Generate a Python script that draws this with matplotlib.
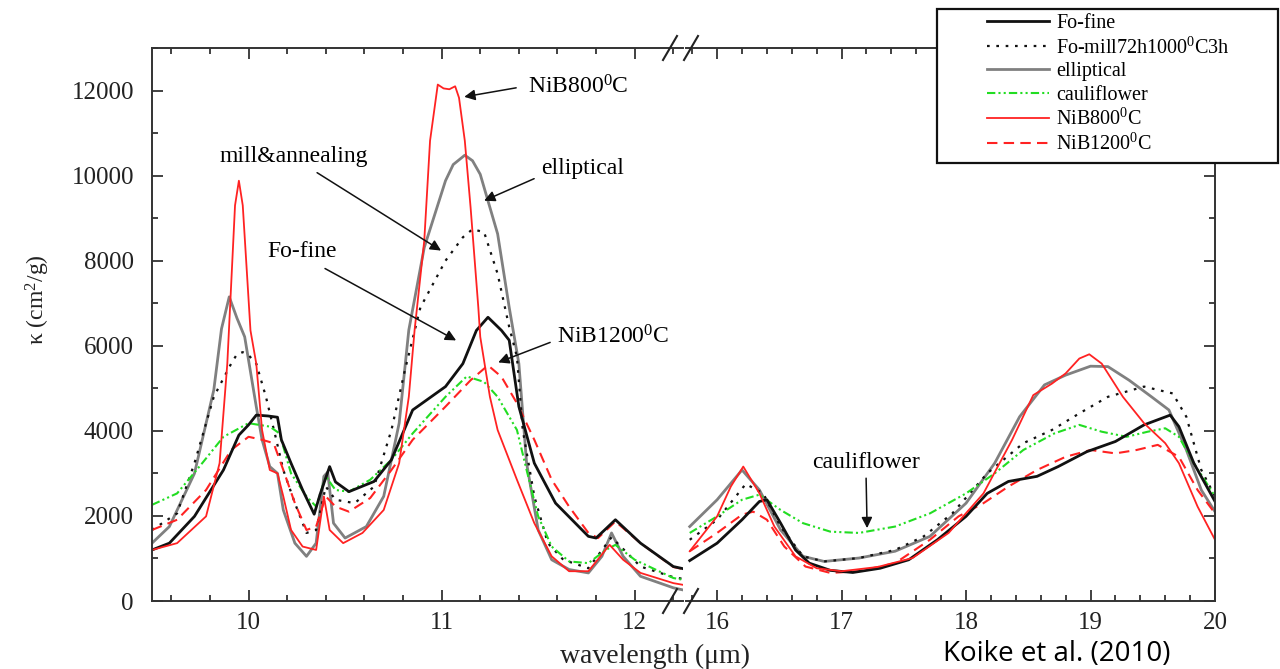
import matplotlib
matplotlib.use('Agg')
import matplotlib.pyplot as plt
from matplotlib.lines import Line2D
from matplotlib.patches import Rectangle
from matplotlib.ticker import MultipleLocator

plt.rcParams['font.family'] = ['Liberation Serif', 'DejaVu Serif']
plt.rcParams['mathtext.fontset'] = 'custom'
plt.rcParams['mathtext.rm'] = 'Liberation Serif'
plt.rcParams['mathtext.it'] = 'Liberation Serif:italic'

# ---- data (wavelength in um, kappa in cm^2/g) ----
# left panel (9.5 - 12.25 um)
fo_fine_lx = [9.50, 9.59, 9.72, 9.87, 9.95, 10.00, 10.04, 10.10, 10.15, 10.17, 10.22, 10.28, 10.34, 10.37,
              10.42, 10.45, 10.52, 10.65, 10.74, 10.85, 11.02, 11.11, 11.18, 11.24, 11.31, 11.35, 11.40,
              11.48, 11.59, 11.76, 11.80, 11.90, 12.03, 12.20, 12.25]
fo_fine_ly = [1200, 1360, 1990, 3080, 3900, 4140, 4370, 4350, 4320, 3790, 3240, 2610, 2040, 2500,
              3160, 2800, 2570, 2810, 3320, 4490, 5040, 5580, 6360, 6670, 6360, 6130, 4570,
              3240, 2300, 1520, 1480, 1910, 1360, 810, 760]

fo_mill_lx = [9.50, 9.63, 9.72, 9.82, 9.91, 9.94, 9.97, 10.00, 10.04, 10.09, 10.14, 10.18, 10.24, 10.30,
              10.35, 10.40, 10.45, 10.55, 10.65, 10.74, 10.81, 10.89, 11.02, 11.11, 11.16, 11.22, 11.29,
              11.35, 11.39, 11.42, 11.48, 11.55, 11.63, 11.76, 11.88, 12.03, 12.20, 12.25]
fo_mill_ly = [1670, 2060, 3240, 4800, 5580, 5800, 5850, 5780, 5580, 4800, 3860, 3080, 2300, 1600,
              1670, 2690, 2380, 2300, 2690, 4020, 5430, 6900, 8000, 8550, 8740, 8670, 7690,
              6440, 5740, 4020, 2460, 1360, 970, 770, 1500, 810, 560, 520]

ellip_lx = [9.50, 9.59, 9.72, 9.82, 9.86, 9.90, 9.94, 9.98, 10.04, 10.07, 10.11, 10.15, 10.18, 10.24,
            10.30, 10.35, 10.39, 10.41, 10.44, 10.50, 10.61, 10.70, 10.78, 10.83, 10.91, 11.02, 11.06,
            11.12, 11.16, 11.20, 11.29, 11.35, 11.40, 11.44, 11.50, 11.57, 11.66, 11.76, 11.83, 11.88,
            11.94, 12.03, 12.20, 12.25]
ellip_ly = [1360, 1750, 3000, 4960, 6400, 7150, 6650, 6210, 4570, 3790, 3160, 3000, 2140, 1360,
            1050, 1360, 2930, 3030, 1830, 1480, 1750, 2460, 4180, 6370, 8310, 9880, 10260,
            10480, 10350, 10030, 8630, 6900, 5580, 3240, 1670, 970, 740, 660, 1050, 1600,
            1050, 580, 310, 260]

cauli_lx = [9.50, 9.63, 9.76, 9.87, 10.00, 10.11, 10.16, 10.22, 10.30, 10.35, 10.40, 10.45, 10.52, 10.63,
            10.74, 10.85, 11.02, 11.13, 11.22, 11.29, 11.39, 11.44, 11.50, 11.57, 11.66, 11.76, 11.85,
            11.90, 12.00, 12.20, 12.25]
cauli_ly = [2260, 2530, 3240, 3860, 4180, 4100, 3940, 3000, 2460, 2220, 2930, 2610, 2570, 2850,
            3320, 3940, 4800, 5280, 5150, 4800, 4020, 3080, 1990, 1280, 930, 890, 1200,
            1320, 970, 540, 500]

nib800_lx = [9.50, 9.63, 9.78, 9.85, 9.89, 9.93, 9.95, 9.97, 10.01, 10.04, 10.07, 10.11, 10.15, 10.18,
             10.22, 10.28, 10.35, 10.39, 10.42, 10.49, 10.59, 10.70, 10.78, 10.83, 10.86, 10.91, 10.94,
             10.98, 11.01, 11.04, 11.07, 11.09, 11.12, 11.15, 11.19, 11.20, 11.25, 11.29, 11.39, 11.48,
             11.57, 11.66, 11.76, 11.87, 11.94, 12.03, 12.20, 12.25]
nib800_ly = [1200, 1360, 1990, 3240, 5580, 9300, 9880, 9300, 6360, 5580, 4020, 3080, 3000, 2460,
             1670, 1280, 1200, 2460, 1670, 1360, 1600, 2140, 3240, 4800, 6370, 8470, 10820,
             12140, 12050, 12030, 12100, 11830, 10820, 9250, 6900, 6210, 4800, 4020, 2850, 1830,
             1050, 700, 700, 1320, 970, 660, 420, 380]

nib1200_lx = [9.50, 9.63, 9.78, 9.91, 10.00, 10.07, 10.13, 10.18, 10.24, 10.30, 10.35, 10.40, 10.45, 10.52,
              10.63, 10.74, 10.85, 11.02, 11.15, 11.24, 11.31, 11.39, 11.48, 11.57, 11.66, 11.76, 11.81,
              11.90, 12.03, 12.20, 12.25]
nib1200_ly = [1670, 1910, 2610, 3550, 3860, 3790, 3710, 3080, 2300, 1670, 1750, 2460, 2220, 2100,
              2420, 3080, 3790, 4570, 5190, 5540, 5270, 4650, 3790, 2850, 2220, 1600, 1480,
              1870, 1360, 800, 750]

# right panel (15.75 - 20 um)
fo_fine_rx = [15.78, 16.00, 16.20, 16.34, 16.40, 16.51, 16.63, 16.74, 16.91, 17.09, 17.31, 17.54, 17.77,
              18.00, 18.17, 18.34, 18.57, 18.74, 18.97, 19.20, 19.43, 19.64, 19.71, 19.83, 20.00]
fo_fine_ry = [950, 1360, 1910, 2340, 2380, 1830, 1200, 890, 720, 670, 770, 970, 1440,
              1990, 2530, 2810, 2930, 3160, 3510, 3750, 4140, 4370, 4100, 3240, 2340]

fo_mill_rx = [15.78, 16.00, 16.23, 16.37, 16.51, 16.69, 16.86, 17.14, 17.43, 17.66, 17.89, 18.17, 18.46,
              18.69, 18.91, 19.14, 19.43, 19.66, 19.77, 19.89, 20.00]
fo_mill_ry = [1440, 1910, 2750, 2530, 1750, 1050, 930, 1010, 1200, 1520, 2060, 3000, 3710,
              4020, 4410, 4800, 5040, 4880, 4330, 3080, 2460]

ellip_rx = [15.78, 16.00, 16.20, 16.34, 16.51, 16.69, 16.86, 17.14, 17.43, 17.71, 18.00, 18.23, 18.43,
            18.63, 18.80, 19.00, 19.14, 19.31, 19.49, 19.63, 19.77, 19.89, 20.00]
ellip_ry = [1750, 2380, 3080, 2610, 1670, 1050, 930, 1010, 1170, 1520, 2300, 3240, 4330,
            5080, 5310, 5520, 5510, 5190, 4800, 4490, 3550, 2610, 2100]

cauli_rx = [15.78, 16.00, 16.20, 16.34, 16.51, 16.69, 16.91, 17.14, 17.43, 17.71, 18.00, 18.23, 18.46,
            18.71, 18.91, 19.09, 19.29, 19.46, 19.60, 19.71, 19.83, 20.00]
cauli_ry = [1600, 1990, 2380, 2500, 2140, 1830, 1630, 1600, 1750, 2060, 2530, 3000, 3550,
            3940, 4140, 3980, 3860, 3980, 4060, 3860, 3240, 2460]

nib800_rx = [15.78, 16.00, 16.11, 16.21, 16.34, 16.46, 16.63, 16.80, 17.00, 17.29, 17.57, 17.86, 18.14,
             18.37, 18.54, 18.69, 18.80, 18.91, 18.99, 19.09, 19.26, 19.43, 19.60, 19.71, 19.86, 20.00]
nib800_ry = [1170, 1990, 2690, 3160, 2530, 1750, 1050, 770, 700, 800, 1010, 1600, 2530,
             3790, 4840, 5110, 5350, 5700, 5800, 5580, 4800, 4180, 3710, 3240, 2220, 1440]

nib1200_rx = [15.78, 16.00, 16.20, 16.29, 16.40, 16.54, 16.71, 16.91, 17.14, 17.43, 17.71, 17.94, 18.14,
              18.34, 18.57, 18.80, 19.00, 19.20, 19.37, 19.54, 19.71, 19.86, 20.00]
nib1200_ry = [1170, 1600, 2030, 2100, 1910, 1280, 810, 660, 700, 890, 1440, 1990, 2300,
              2690, 3080, 3390, 3550, 3470, 3550, 3670, 3390, 2610, 2060]

labels = ['Fo-fine', 'Fo-mill72h1000$^0$C3h', 'elliptical', 'cauliflower', 'NiB800$^0$C', 'NiB1200$^0$C']

# line styles for each series
styles = [dict(color='#111111', lw=2.0, ls='-'),
          dict(color='#111111', lw=1.6, ls=(0, (1.2, 3))),
          dict(color='#808080', lw=2.0, ls='-'),
          dict(color='#22dd22', lw=1.5, ls=(0, (4, 1.5, 1, 1.5, 1, 1.5))),
          dict(color='#ff2222', lw=1.3, ls='-'),
          dict(color='#ff2222', lw=1.5, ls=(0, (5, 3)))]

left_data = [(fo_fine_lx, fo_fine_ly), (fo_mill_lx, fo_mill_ly), (ellip_lx, ellip_ly),
             (cauli_lx, cauli_ly), (nib800_lx, nib800_ly), (nib1200_lx, nib1200_ly)]
right_data = [(fo_fine_rx, fo_fine_ry), (fo_mill_rx, fo_mill_ry), (ellip_rx, ellip_ry),
              (cauli_rx, cauli_ry), (nib800_rx, nib800_ry), (nib1200_rx, nib1200_ry)]

W, H = 1280, 669
fig = plt.figure(figsize=(W / 100, H / 100), dpi=100)

def fx(px):
    return px / W

def fy(py):
    return 1 - py / H

ax1 = fig.add_axes([fx(152), fy(601), fx(683) - fx(152), fy(48) - fy(601)])
ax2 = fig.add_axes([fx(686), fy(601), fx(1215) - fx(686), fy(48) - fy(601)])

# draw order: put the thin red on top like the original
order = [2, 1, 3, 5, 0, 4]
handles = {}
for i in order:
    ax1.plot(left_data[i][0], left_data[i][1], **styles[i])
    h, = ax2.plot(right_data[i][0], right_data[i][1], label=labels[i], **styles[i])
    handles[i] = h

ax1.set_xlim(9.5, 12.25)
ax2.set_xlim(15.75, 20)
for ax in (ax1, ax2):
    ax.set_ylim(0, 13000)
    ax.xaxis.set_major_locator(MultipleLocator(1))
    ax.xaxis.set_minor_locator(MultipleLocator(0.2))
    ax.yaxis.set_major_locator(MultipleLocator(2000))
    ax.yaxis.set_minor_locator(MultipleLocator(1000))
    ax.tick_params(which='both', direction='in', top=True, right=True, width=1.3, colors='#333333',
                   labelsize=18, labelcolor='#222222')
    ax.tick_params(which='major', length=8)
    ax.tick_params(which='minor', length=4)
    ax.tick_params(axis='x', pad=8)
    for s in ax.spines.values():
        s.set_linewidth(1.4)
        s.set_color('#333333')

ax1.spines['right'].set_visible(False)
ax1.tick_params(which='both', right=False)
ax1.tick_params(axis='y', pad=13)
ax2.spines['left'].set_visible(False)
ax2.tick_params(which='both', left=False, labelleft=False)

# annotations
arrow = dict(arrowstyle='-|>', color='#111111', lw=1.1, mutation_scale=16, shrinkA=0, shrinkB=0)
fs = 17
ax1.text(11.448, 12087, 'NiB800$^0$C', fontsize=fs, ha='left', va='center')
ax1.annotate('', xy=(11.117, 11852), xytext=(11.386, 12064), arrowprops=arrow)
ax1.text(11.516, 10163, 'elliptical', fontsize=fs, ha='left', va='center')
ax1.annotate('', xy=(11.220, 9411), xytext=(11.479, 9928), arrowprops=arrow)
ax1.text(9.847, 10444, 'mill&annealing', fontsize=fs, ha='left', va='center')
ax1.annotate('', xy=(10.997, 8238), xytext=(10.355, 10069), arrowprops=arrow)
ax1.text(10.096, 8215, 'Fo-fine', fontsize=fs, ha='left', va='center')
ax1.annotate('', xy=(11.075, 6126), xytext=(10.396, 7816), arrowprops=arrow)
ax1.text(11.598, 6220, 'NiB1200$^0$C', fontsize=fs, ha='left', va='center', clip_on=False, zorder=10)
ax1.annotate('', xy=(11.293, 5609), xytext=(11.562, 6079), arrowprops=arrow)
ax2.text(16.763, 3262, 'cauliflower', fontsize=fs, ha='left', va='center')
ax2.annotate('', xy=(17.205, 1713), xytext=(17.197, 2887), arrowprops=arrow)

# axis break marks
for cx in (670, 691):
    for cy in (601, 48):
        fig.add_artist(Line2D([fx(cx - 7), fx(cx + 7)], [fy(cy + 12), fy(cy - 12)],
                              color='#222222', lw=1.5, transform=fig.transFigure))

# axis labels
fig.text(fx(38), fy(300), 'κ (cm$^2$/g)', rotation=90, ha='center', va='center', fontsize=17,
         color='#222222')
fig.text(fx(655), fy(656), 'wavelength (μm)', ha='center', va='center', fontsize=20, color='#222222')

# legend with its own frame
frame = Rectangle((fx(937), fy(163)), fx(1278) - fx(937), fy(9) - fy(163), transform=fig.transFigure,
                  facecolor='white', edgecolor='#111111', lw=1.6, zorder=5)
fig.add_artist(frame)
leg = fig.legend([handles[i] for i in range(6)], labels, loc='upper left',
                 bbox_to_anchor=(fx(987), fy(14)), frameon=False, fontsize=14.5,
                 handlelength=3.1, handletextpad=0.35, labelspacing=0.2, borderaxespad=0,
                 borderpad=0)
leg.set_zorder(6)

fig.text(fx(943), fy(661), 'Koike et al. (2010)', fontsize=20, family=['Open Sans', 'DejaVu Sans'],
         ha='left', va='baseline')

fig.savefig('out.png', dpi=100)
